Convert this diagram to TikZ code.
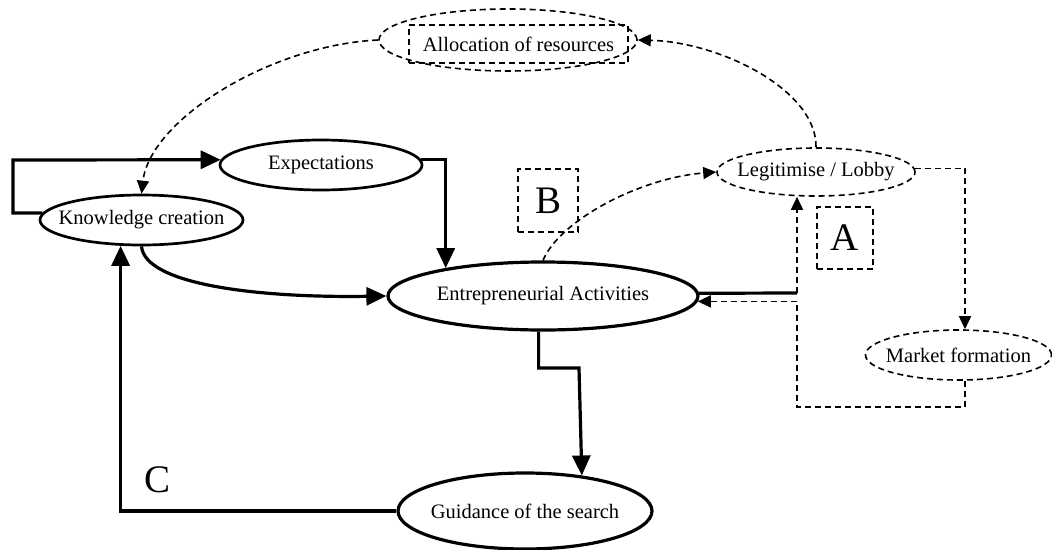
\documentclass[tikz,border=0pt]{standalone}
\usepackage{fontspec}
\setmainfont{Liberation Serif}
\usetikzlibrary{arrows.meta,shapes.geometric}
\begin{document}
\begin{tikzpicture}[x=1pt,y=-1pt,
  lbl/.style={font=\fontsize{20.5}{23}\selectfont},
  dsh/.style={line width=1.6pt,dash pattern=on 6pt off 4pt},
  solidell/.style={ellipse,draw,line width=2.7pt,inner sep=0pt,label={[lbl,inner sep=0pt]center:#1}},
  dashell/.style={ellipse,draw,dsh,inner sep=0pt,label={[lbl,inner sep=0pt]center:#1}},
  thickarr/.style={line width=3.2pt,-{Triangle[length=20pt,width=18pt]}},
  dasharr/.style={dsh,-{Triangle[length=13pt,width=12pt]}},
  letterbox/.style={draw,dsh,inner sep=0pt,font=\fontsize{39}{41}\selectfont}]
\useasboundingbox (0,0) rectangle (1052,549);

% nodes
\node[ellipse,draw,dsh,inner sep=0pt,minimum width=258pt,minimum height=62pt] (alloc) at (508,40) {};
\node[draw,dsh,inner sep=0pt,lbl,minimum width=219pt,minimum height=38pt] (allocbox) at (518.5,44) {Allocation of resources};
\node[solidell=Expectations,minimum width=202pt,minimum height=50pt] (expect) at (321,165) {};
\node[solidell=Knowledge creation,minimum width=203pt,minimum height=50pt] (know) at (141.5,220) {};
\node[solidell=Entrepreneurial Activities,line width=3.2pt,minimum width=310pt,minimum height=68pt] (entre) at (543,296) {};
\node[solidell=Guidance of the search,line width=3.2pt,minimum width=254pt,minimum height=76pt] (guid) at (525,511) {};
\node[dashell=Legitimise / Lobby,minimum width=198pt,minimum height=48pt] (legit) at (816,172) {};
\node[dashell=Market formation,minimum width=186pt,minimum height=50pt] (market) at (958.5,355) {};

\node[letterbox,minimum width=56pt,minimum height=62pt] (A) at (845,238) {A};
\node[letterbox,minimum width=60pt,minimum height=63pt] (B) at (548,200.5) {B};
\node[font=\fontsize{39}{41}\selectfont,inner sep=0pt] (C) at (158,480) {C};

% helper coordinates
\coordinate (fb) at (13,160);
\coordinate (aux) at (797,293);
\coordinate (ret) at (797,407);
\coordinate (mx) at (965,0);
\coordinate (g1) at (579,368);

% solid connectors
\draw[thickarr] (know.176) -| (fb) -- (expect.177);
\draw[thickarr] (expect.3) -| (entre.164);
\draw[thickarr] (know.south) .. controls (145,285) and (260,298) .. (entre.west);
\draw[thickarr] (entre.263.3) |- (g1) -- (guid.32.5);
\draw[thickarr] (guid.west) -| (know.231.5);
\draw[line width=3.2pt] (entre.1.1) -- (aux);

% dashed connectors
\draw[dasharr] (aux) -- (aux |- legit.south);
\draw[dasharr] (legit.2) -| (market.north -| mx);
\draw[dasharr] (market.south -| mx) |- (ret) |- (entre.-2.6);
\draw[dasharr] (legit.north) .. controls (817,90) and (720,42) .. (alloc.east);
\draw[dasharr] (alloc.west) .. controls (270,45) and (150,120) .. (know.north);
\draw[dasharr] (entre.north) .. controls (560,220) and (640,178) .. (legit.west);
\end{tikzpicture}
\end{document}
